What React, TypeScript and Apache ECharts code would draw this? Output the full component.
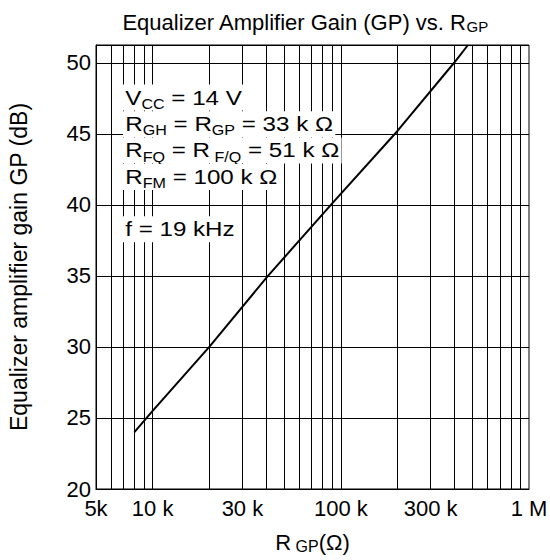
import React, { useEffect, useRef } from "react";
import * as echarts from "echarts";

// ---- data ----
const resistanceOhm = [8000, 10000, 20000, 41000, 90000, 200000, 400000, 474000];
const gainDb = [24, 25.5, 30, 35, 40.1, 45.2, 50, 51.25];

const xMin = 5000;
const xMax = 1000000;
const yMin = 20;
const yMax = 51.25;
const yInterval = 5;

const xGridValues = [
  6000, 7000, 8000, 9000, 10000,
  20000, 30000, 40000, 50000, 60000, 70000, 80000, 90000, 100000,
  200000, 300000, 400000, 500000, 600000, 700000, 800000, 900000,
];
const xTickValues = [5000, 10000, 30000, 100000, 300000, 1000000];
const xTickLabels = ["5k", "10 k", "30 k", "100 k", "300 k", "1 M"];

const annotationLines = [
  "{b|V}{s|CC}{b| = 14 V}",
  "{b|R}{s|GH}{b| = R}{s|GP}{b| = 33 k Ω}",
  "{b|R}{s|FQ}{b| = R}{s| F/Q}{b| = 51 k Ω}",
  "{b|R}{s|FM}{b| = 100 k Ω}",
  "{b|f = 19 kHz}",
];

const FONT = "'Liberation Sans', Arial, Helvetica, sans-serif";

export default function App() {
  const ref = useRef<HTMLDivElement>(null);

  useEffect(() => {
    const chart = echarts.init(ref.current!, null, { renderer: "svg" });
    const lg = (v: number) => Math.log10(v);

    const rich = {
      b: { fontSize: 21, fontFamily: FONT, fontWeight: "normal", color: "#000", fill: "#000", lineHeight: 26 },
      s: { fontSize: 14, fontFamily: FONT, fontWeight: "normal", color: "#000", fill: "#000", lineHeight: 13, verticalAlign: "bottom" },
    };

    const annY = [97.6, 124.3, 150.5, 177, 229.3];
    const graphic = annotationLines.map((t, i) => ({
      type: "text",
      x: 123,
      y: annY[i],
      scaleX: 1.15,
      z: 100,
      style: {
        text: t,
        rich,
        fill: "#000",
        backgroundColor: "#fff",
        padding: [0, 2, 0, 2],
        align: "left",
        verticalAlign: "middle",
        fontFamily: FONT,
        fontSize: 21,
      },
    }));

    chart.setOption({
      animation: false,
      title: {
        text: "{b|Equalizer Amplifier Gain (GP) vs. R}{s|GP}",
        left: 305,
        top: 10,
        textAlign: "center",
        padding: 0,
        textStyle: {
          fontWeight: "normal",
          rich: {
            b: { fontSize: 22, fontFamily: FONT, fontWeight: "normal", color: "#000", lineHeight: 24 },
            s: { fontSize: 15, fontFamily: FONT, fontWeight: "normal", color: "#000", lineHeight: 12, verticalAlign: "bottom" },
          },
        },
      },
      grid: {
        left: 96,
        top: 45,
        right: 21,
        bottom: 71,
        show: true,
        borderColor: "#000",
        borderWidth: 1,
        backgroundColor: "#fff",
        containLabel: false,
        outerBoundsMode: "none",
      },
      xAxis: {
        type: "value",
        min: lg(xMin),
        max: lg(xMax),
        axisLine: { show: true, lineStyle: { color: "#000", width: 1 } },
        axisTick: { show: false, customValues: xGridValues.map(lg) },
        axisLabel: {
          customValues: xTickValues.map(lg),
          formatter: (v: number) => {
            const i = xTickValues.findIndex((t) => Math.abs(lg(t) - v) < 1e-6);
            return i >= 0 ? xTickLabels[i] : "";
          },
          fontSize: 22,
          fontFamily: FONT,
          color: "#000",
          margin: 8,
        },
        splitLine: { show: true, lineStyle: { color: "#000", width: 1 } },
        name: "{b|R}{s| GP}{b|(Ω)}",
        nameLocation: "middle",
        nameGap: 41,
        nameTextStyle: {
          rich: {
            b: { fontSize: 22, fontFamily: FONT, color: "#000", lineHeight: 24 },
            s: { fontSize: 16, fontFamily: FONT, color: "#000", lineHeight: 12, verticalAlign: "bottom" },
          },
        },
      },
      yAxis: {
        type: "value",
        min: yMin,
        max: yMax,
        interval: yInterval,
        axisLine: { show: true, lineStyle: { color: "#000", width: 1 } },
        axisTick: { show: false },
        axisLabel: {
          formatter: (v: number) => (Math.abs(v % yInterval) < 1e-9 ? String(v) : ""),
          fontSize: 22,
          fontFamily: FONT,
          color: "#000",
          margin: 5,
        },
        splitLine: { show: true, lineStyle: { color: "#000", width: 1 } },
        name: "Equalizer amplifier gain GP (dB)",
        nameLocation: "middle",
        nameGap: 66,
        nameTextStyle: { fontSize: 23, fontFamily: FONT, color: "#000" },
      },
      series: [
        {
          type: "line",
          data: resistanceOhm.map((r, i) => [lg(r), gainDb[i]]),
          symbol: "none",
          clip: true,
          z: 5,
          lineStyle: { color: "#000", width: 2 },
        },
      ],
      graphic,
    });

    return () => chart.dispose();
  }, []);

  return (
    <div
      ref={ref}
      style={{ position: "absolute", left: 0, top: 0, width: 550, height: 560, background: "#fff" }}
    />
  );
}
